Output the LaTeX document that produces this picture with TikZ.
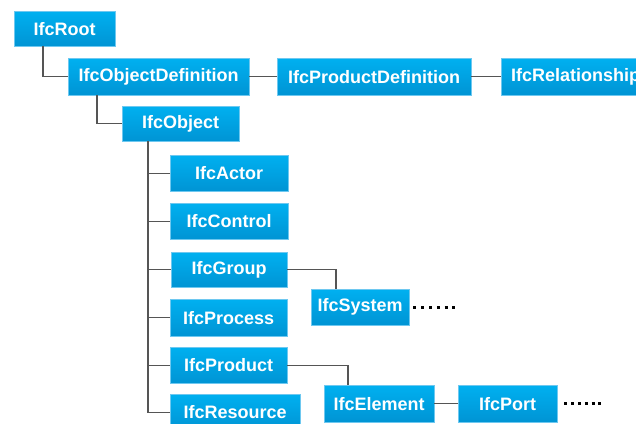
\documentclass[tikz,border=0pt]{standalone}
\usepackage{fontspec}
\setmainfont{Liberation Sans}
\definecolor{boxtop}{RGB}{0,176,240}
\definecolor{boxbot}{RGB}{0,148,212}
\definecolor{boxedge}{RGB}{110,200,240}
\definecolor{linegray}{RGB}{85,85,85}
\tikzset{
  ifcbox/.style={anchor=north west, inner sep=0pt, top color=boxtop, bottom color=boxbot,
    draw=boxedge, line width=0.4pt, text=white, font=\fontsize{18}{20}\selectfont\bfseries},
  conn/.style={draw=linegray, line width=1.2pt},
  moredots/.style={draw=black, line width=3pt, dash pattern=on 3pt off 4.8pt},
  moredotsb/.style={draw=black, line width=3pt, dash pattern=on 3pt off 3.8pt}
}
\begin{document}
\begin{tikzpicture}[x=1pt,y=1pt]
\useasboundingbox (0,0) rectangle (636,-423);
\clip (0,0) rectangle (636,-423);
\node[ifcbox, minimum width=101, minimum height=35] (root) at (14,-11) {IfcRoot};
\node[ifcbox, minimum width=181, minimum height=37] (objdef) at (68,-58) {IfcObjectDefinition};
\node[ifcbox, minimum width=194, minimum height=37] (proddef) at (277,-58) {IfcProductDefinition};
\node[ifcbox, minimum width=149, minimum height=37] (rel) at (501,-58) {IfcRelationship};
\node[ifcbox, minimum width=117, minimum height=35] (object) at (122,-106) {IfcObject};
\node[ifcbox, minimum width=118, minimum height=36] (actor) at (170,-155) {IfcActor};
\node[ifcbox, minimum width=118, minimum height=36] (control) at (170,-203) {IfcControl};
\node[ifcbox, minimum width=116, minimum height=35] (group) at (171,-252) {IfcGroup};
\node[ifcbox, minimum width=117, minimum height=37] (process) at (170,-299) {IfcProcess};
\node[ifcbox, minimum width=117, minimum height=36] (product) at (170,-347) {IfcProduct};
\node[ifcbox, minimum width=130, minimum height=36] (resource) at (170,-394) {IfcResource};
\node[ifcbox, minimum width=98, minimum height=36] (system) at (311,-289) {IfcSystem};
\node[ifcbox, minimum width=110, minimum height=37] (element) at (324,-385) {IfcElement};
\node[ifcbox, minimum width=99, minimum height=37] (port) at (458,-385) {IfcPort};
% connectors
\draw[conn] (root.south west) ++(29,0) |- (objdef.west);
\draw[conn] (objdef.south west) ++(29,0) |- (object.west);
\draw[conn] (objdef.east) -- (proddef.west);
\draw[conn] (proddef.east) -- (rel.west);
\draw[conn] (object.south west) ++(26,0) |- (resource.west);
\draw[conn] (actor.west) -- ++(-22,0);
\draw[conn] (control.west) -- ++(-22,0);
\draw[conn] (group.west) -- ++(-23,0);
\draw[conn] (process.west) -- ++(-22,0);
\draw[conn] (product.west) -- ++(-22,0);
\draw[conn] (group.east) -| ([xshift=25]system.north west);
\draw[conn] (product.east) -| ([xshift=24]element.north west);
\draw[conn] (element.east) -- (port.west);
% continuation dots
\draw[moredots] ([xshift=4]system.east) -- ++(42,0);
\draw[moredotsb] ([xshift=7]port.east) -- ++(37,0);
\end{tikzpicture}
\end{document}
